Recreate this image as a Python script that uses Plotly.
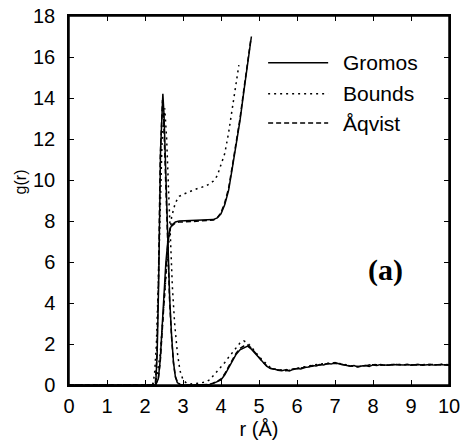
import plotly.graph_objects as go

# ---------------- data ----------------
# radial distribution functions g(r)
r_gromos = [0.0, 2.28, 2.32, 2.36, 2.41, 2.47, 2.50, 2.53, 2.57, 2.60, 2.65, 2.70, 2.75, 2.80, 2.85, 2.92,
            3.0, 3.3, 3.6, 3.7, 3.8, 3.9, 4.0, 4.1, 4.2, 4.3, 4.4, 4.5, 4.6, 4.7, 4.8, 4.9, 5.0,
            5.1, 5.2, 5.3, 5.4, 5.5, 5.6, 5.7, 5.8, 5.9, 6.0, 6.1, 6.2, 6.3, 6.4, 6.5, 6.6, 6.7,
            6.8, 6.9, 7.0, 7.1, 7.2, 7.3, 7.4, 7.5, 7.6, 7.7, 7.8, 7.9, 8.0, 8.1, 8.2, 8.3, 8.4,
            8.5, 8.6, 8.7, 8.8, 8.9, 9.0, 9.1, 9.2, 9.3, 9.4, 9.5, 9.6, 9.7, 9.8, 9.9, 10.0]
g_gromos = [0.0, 0.0, 1.5, 5.0, 11.5, 14.2, 13.2, 11.5, 8.5, 6.6, 4.2, 2.4, 1.1, 0.4, 0.12, 0.02,
            0.0, 0.0, 0.0, 0.03, 0.08, 0.15, 0.25, 0.5, 0.85, 1.2, 1.5, 1.72, 1.82, 1.9, 1.75, 1.55, 1.3,
            1.1, 0.92, 0.8, 0.78, 0.72, 0.7, 0.74, 0.68, 0.76, 0.8, 0.78, 0.85, 0.88, 0.95, 0.93, 1.0, 0.98,
            1.05, 1.02, 1.1, 1.04, 1.0, 0.96, 0.92, 0.95, 0.88, 0.93, 0.95, 0.91, 0.98, 0.95, 1.0, 0.97, 0.96,
            1.0, 1.0, 0.97, 0.98, 1.01, 0.97, 0.99, 1.0, 0.96, 0.98, 1.0, 0.97, 0.99, 1.0, 0.97, 0.98]

r_bounds = [0.0, 2.20, 2.25, 2.30, 2.35, 2.40, 2.45, 2.52, 2.57, 2.62, 2.67, 2.72, 2.78, 2.85, 2.92,
            3.0, 3.1, 3.2, 3.4, 3.5, 3.6, 3.7, 3.8, 3.9, 4.0, 4.1, 4.2, 4.3, 4.4, 4.5, 4.6, 4.7,
            4.8, 4.9, 5.0, 5.1, 5.2, 5.3, 5.4, 5.5, 5.6, 5.7, 5.8, 5.9, 6.0, 6.2, 6.4, 6.6, 6.8,
            7.0, 7.2, 7.4, 7.6, 7.8, 8.0, 8.2, 8.4, 8.6, 8.8, 9.0, 9.2, 9.4, 9.6, 9.8, 10.0]
g_bounds = [0.0, 0.0, 0.5, 2.0, 5.0, 9.0, 12.0, 13.5, 12.0, 9.5, 7.0, 4.8, 3.0, 1.6, 0.7,
            0.25, 0.08, 0.05, 0.08, 0.1, 0.15, 0.25, 0.45, 0.65, 0.9, 1.1, 1.35, 1.6, 1.85, 2.05, 2.15, 2.05,
            1.85, 1.6, 1.4, 1.2, 1.0, 0.85, 0.78, 0.75, 0.72, 0.76, 0.72, 0.78, 0.82, 0.88, 0.96, 1.02, 1.06,
            1.08, 1.02, 0.94, 0.9, 0.96, 1.0, 0.98, 0.97, 1.01, 0.99, 0.98, 1.0, 0.99, 0.97, 1.01, 0.99]

r_aqvist = [0.0, 2.27, 2.31, 2.35, 2.40, 2.46, 2.49, 2.52, 2.56, 2.60, 2.65, 2.70, 2.75, 2.80, 2.86, 2.93,
            3.0, 3.3, 3.6, 3.7, 3.8, 3.9, 4.0, 4.1, 4.2, 4.3, 4.4, 4.5, 4.6, 4.7, 4.8, 4.9, 5.0,
            5.1, 5.2, 5.3, 5.4, 5.5, 5.6, 5.7, 5.8, 5.9, 6.0, 6.2, 6.4, 6.6, 6.8, 7.0, 7.2, 7.4,
            7.6, 7.8, 8.0, 8.2, 8.4, 8.6, 8.8, 9.0, 9.2, 9.4, 9.6, 9.8, 10.0]
g_aqvist = [0.0, 0.0, 1.3, 4.6, 11.0, 13.9, 13.0, 11.2, 8.3, 6.4, 4.0, 2.3, 1.05, 0.4, 0.12, 0.02,
            0.0, 0.0, 0.0, 0.03, 0.1, 0.18, 0.3, 0.55, 0.9, 1.25, 1.55, 1.78, 1.9, 1.95, 1.8, 1.58, 1.32,
            1.12, 0.95, 0.82, 0.76, 0.74, 0.72, 0.7, 0.72, 0.78, 0.8, 0.86, 0.92, 1.0, 1.04, 1.06, 0.98, 0.93,
            0.9, 0.94, 0.99, 0.98, 0.96, 1.0, 0.98, 0.99, 0.97, 1.0, 0.98, 0.99, 0.98]

# running coordination numbers n(r)
rn_gromos = [2.28, 2.35, 2.40, 2.45, 2.50, 2.55, 2.60, 2.65, 2.70, 2.80, 2.90, 3.2, 3.5, 3.8, 3.9, 4.0,
             4.1, 4.2, 4.3, 4.4, 4.5, 4.6, 4.7, 4.8]
n_gromos = [0.0, 0.3, 1.2, 2.8, 4.6, 6.0, 7.0, 7.55, 7.8, 7.95, 8.0, 8.02, 8.03, 8.07, 8.15, 8.35,
            8.8, 9.5, 10.6, 11.7, 12.9, 14.3, 15.7, 17.0]

rn_bounds = [2.20, 2.30, 2.40, 2.50, 2.60, 2.70, 2.80, 2.90, 3.0, 3.2, 3.4, 3.6, 3.8, 3.9, 4.0, 4.1,
             4.2, 4.3, 4.4, 4.47]
n_bounds = [0.0, 0.3, 1.5, 4.0, 6.5, 8.2, 8.9, 9.2, 9.3, 9.45, 9.6, 9.7, 9.95, 10.2, 10.7, 11.3,
            12.3, 13.5, 14.8, 15.6]

rn_aqvist = [2.27, 2.35, 2.40, 2.45, 2.50, 2.55, 2.60, 2.65, 2.70, 2.80, 2.90, 3.2, 3.5, 3.8, 3.9, 4.0,
             4.1, 4.2, 4.3, 4.4, 4.5, 4.6, 4.7, 4.78]
n_aqvist = [0.0, 0.3, 1.1, 2.6, 4.4, 5.8, 6.9, 7.5, 7.75, 7.9, 7.95, 7.97, 8.0, 8.05, 8.15, 8.4,
            8.9, 9.6, 10.7, 11.8, 13.0, 14.4, 15.8, 16.8]

series_names = ["Gromos", "Bounds", "Åqvist"]
x_ticks = list(range(0, 11))
y_ticks = list(range(0, 19, 2))
x_range = [0, 10]
y_range = [0, 18]

# ---------------- styles ----------------
dashes = {"Gromos": "solid", "Bounds": "2px,4px", "Åqvist": "5px,3px"}
LW = 1.5
FONT = "Liberation Sans, Arial"

fig = go.Figure()
data = {
    "Gromos": (r_gromos, g_gromos, rn_gromos, n_gromos),
    "Bounds": (r_bounds, g_bounds, rn_bounds, n_bounds),
    "Åqvist": (r_aqvist, g_aqvist, rn_aqvist, n_aqvist),
}
for name in series_names:
    rg, gg, rn, nn = data[name]
    fig.add_trace(go.Scatter(x=rg, y=gg, mode="lines", name=name, showlegend=False,
                             line=dict(color="black", width=LW, dash=dashes[name])))
    fig.add_trace(go.Scatter(x=rn, y=nn, mode="lines", name=name + " n(r)", showlegend=False,
                             line=dict(color="black", width=LW, dash=dashes[name])))

# empty helper trace so the mirrored top/right axes (with inside ticks) are drawn
fig.add_trace(go.Scatter(x=[], y=[], xaxis="x2", yaxis="y2", mode="lines",
                         showlegend=False, hoverinfo="skip"))

# frame around the plotting area
fig.add_shape(type="rect", xref="paper", yref="paper", x0=0, x1=1, y0=0, y1=1,
              line=dict(color="black", width=1.5), layer="above")

# manual legend (long line samples like the reference)
leg_y = [0.873, 0.789, 0.710]
for name, yy in zip(series_names, leg_y):
    fig.add_shape(type="line", xref="paper", yref="paper", x0=0.524, x1=0.682, y0=yy, y1=yy,
                  line=dict(color="black", width=LW, dash=dashes[name]))
    fig.add_annotation(xref="paper", yref="paper", x=0.715, y=yy, text=name, showarrow=False,
                       xanchor="left", yanchor="middle",
                       font=dict(family=FONT, size=21, color="black"))

fig.add_annotation(x=8.34, y=5.6, text="<b>(a)</b>", showarrow=False,
                   font=dict(family="Liberation Serif, Times New Roman", size=30, color="black"))

# y-axis title placed like the reference (slightly above centre)
fig.add_annotation(xref="paper", yref="paper", x=-0.128, y=0.55, text="g(r)", showarrow=False,
                   textangle=-90, xanchor="center", yanchor="middle",
                   font=dict(family=FONT, size=16, color="black"))

axis_common = dict(showline=True, linecolor="black", linewidth=1.5,
                   ticks="inside", ticklen=5, tickwidth=1, tickcolor="black",
                   showgrid=False, zeroline=False, ticklabeloverflow="allow",
                   tickfont=dict(family=FONT, size=20, color="black"))

fig.update_layout(
    xaxis=dict(range=x_range, tickvals=x_ticks, ticklabelstandoff=2,
               title=dict(text="r (Å)", standoff=6, font=dict(family=FONT, size=20, color="black")),
               **axis_common),
    yaxis=dict(range=y_range, tickvals=y_ticks, ticklabelstandoff=8, **axis_common),
    xaxis2=dict(range=x_range, tickvals=x_ticks, overlaying="x", side="top", anchor="y2",
                showticklabels=False, **axis_common),
    yaxis2=dict(range=y_range, tickvals=y_ticks, overlaying="y", side="right", anchor="x2",
                showticklabels=False, **axis_common),
    width=461, height=447, margin=dict(l=69, r=12, t=16, b=62, autoexpand=False),
    plot_bgcolor="white", paper_bgcolor="white", showlegend=False,
)

# remove the default 8px page margin so the figure fills the window exactly
fig.write_html("out.html", config={"displayModeBar": False},
               post_script="document.body.style.margin='0';document.body.style.overflow='hidden';")
